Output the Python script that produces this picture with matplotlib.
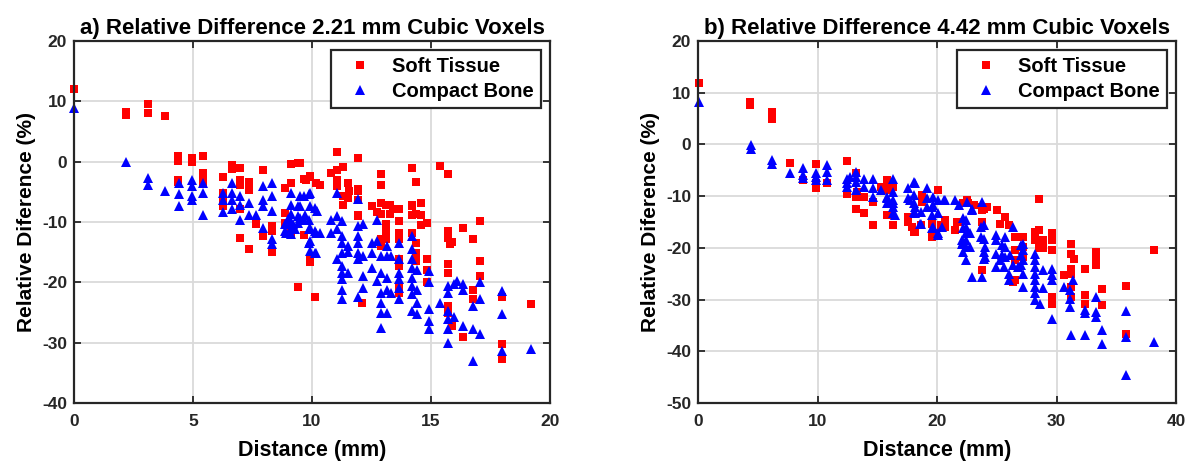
import matplotlib
matplotlib.use("Agg")
import matplotlib.pyplot as plt
import numpy as np

plt.rcParams['font.family'] = ['Liberation Sans', 'DejaVu Sans']
plt.rcParams['axes.unicode_minus'] = False

# ---------------- Panel a data (2.21 mm voxels) ----------------
a_soft = [
    (0, 12.0), (2.17, 8.3), (2.17, 7.8), (3.09, 9.5), (3.09, 8.0), (3.84, 7.6),
    (4.37, 0.9), (4.37, 0.05), (4.37, -3.0), (4.37, -3.3), (4.95, 0.6), (4.95, 0.0),
    (5.41, 0.9), (5.41, -2.0), (5.41, -3.4), (5.41, -1.9),
    (6.24, -2.5), (6.24, -6.3), (6.24, -7.4), (6.27, -5.2), (6.62, -0.5), (6.62, -1.2),
    (6.99, -1.0), (6.99, -3.0), (6.99, -3.8), (6.99, -12.6), (6.99, -7.9),
    (7.37, -3.3), (7.37, -4.7), (7.37, -14.4), (7.66, -10.4), (7.96, -1.3), (7.96, -12.3),
    (8.3, -10.7), (8.3, -11.5), (8.3, -14.9), (8.85, -4.4), (8.85, -8.5), (8.85, -10.1),
    (9.13, -0.4), (9.13, -3.5), (9.13, -11.8), (9.41, -0.2), (9.4, -20.7),
    (9.65, -2.9), (9.65, -12.1), (9.9, -2.5), (9.9, -16.2), (9.9, -16.7), (10.14, -22.4),
    (9.5, -0.3), (9.76, -3.0), (9.93, -2.4), (10.18, -3.5), (10.35, -3.8),
    (10.8, -1.9), (11.05, -1.3), (11.3, -0.9), (11.05, 1.6), (11.94, 0.55),
    (11.05, -3.0), (11.05, -4.1), (11.52, -3.5), (11.52, -6.0), (11.3, -5.7), (11.3, -7.1),
    (11.55, -4.9), (11.94, -4.9), (11.94, -6.3),
    (11.94, -4.6), (11.94, -8.8), (11.94, -9.0), (12.53, -7.4),
    (12.88, -2.1), (12.88, -3.9), (12.88, -8.6), (12.88, -12.9), (12.88, -13.9),
    (12.9, -6.8), (13.1, -7.1), (13.4, -7.9), (12.75, -8.4),
    (13.1, -7.2), (13.27, -7.2), (13.27, -8.7), (13.1, -10.4), (13.1, -11.5), (13.1, -12.9),
    (13.66, -7.9), (13.66, -9.9), (13.66, -11.8), (13.66, -12.9), (13.66, -20.6), (13.66, -21.7),
    (13.66, -16.2), (13.66, -17.3),
    (14.22, -1.0), (14.36, -3.3), (14.22, -7.4), (14.57, -6.9), (14.2, -7.1), (14.6, -6.8),
    (14.22, -8.8), (14.36, -8.7), (14.57, -8.8), (14.85, -10.2), (14.6, -10.5),
    (14.22, -11.8), (14.36, -13.4), (14.36, -15.1), (14.36, -16.5),
    (14.85, -16.2), (14.85, -17.9), (14.85, -20.0), (12.11, -23.4),
    (15.38, -0.7), (15.7, -2.1), (15.7, -11.5), (15.7, -12.6), (15.8, -13.7), (15.9, -13.3),
    (15.7, -17.0), (15.7, -18.4), (15.7, -23.9), (15.7, -25.0), (15.9, -27.2),
    (16.33, -11.0), (16.33, -29.1), (16.78, -12.9), (16.78, -21.2), (16.78, -22.8),
    (17.06, -9.9), (17.06, -16.5), (17.06, -19.0),
    (18.0, -22.5), (18.0, -30.2), (18.0, -32.7), (19.2, -23.6),
]
a_bone = [
    (0, 8.9), (2.19, -0.1), (3.09, -2.7), (3.09, -3.8), (3.84, -4.9),
    (4.40, -3.5), (4.40, -5.3), (4.40, -7.4), (4.95, -3.0), (4.95, -4.1), (4.95, -5.7), (4.95, -6.3),
    (5.41, -3.6), (5.41, -5.2), (5.41, -8.9), (6.24, -5.2), (6.24, -6.3), (6.24, -8.3),
    (6.62, -3.6), (6.62, -5.2), (6.62, -6.3), (6.62, -7.9), (6.99, -5.7), (6.99, -7.1), (6.99, -9.6),
    (7.37, -6.8), (7.37, -8.8), (7.66, -8.8), (7.96, -4.1), (7.96, -6.3), (7.96, -7.4), (7.96, -11.0),
    (8.3, -3.5), (8.3, -5.7), (8.3, -8.2), (8.3, -12.9), (8.3, -13.6), (8.85, -10.4), (8.85, -11.5),
    (9.13, -5.2), (9.13, -7.1), (9.13, -8.6), (9.13, -10.0), (9.13, -11.0),
    (9.41, -7.4), (9.41, -9.0), (9.41, -10.1), (9.65, -5.7), (9.65, -9.6),
    (9.9, -5.2), (9.9, -7.4), (9.9, -11.0), (9.9, -13.2), (9.9, -14.8),
    (10.14, -7.7), (10.14, -11.5), (10.14, -15.1),
    (9.0, -9.5), (9.2, -10.3), (9.3, -11.2), (8.9, -11.8), (9.1, -12.0),
    (9.5, -5.7), (9.5, -7.4), (9.5, -9.3), (9.88, -5.3), (10.2, -8.1), (9.71, -8.9),
    (9.88, -9.6), (9.88, -11.2), (10.18, -11.8), (10.35, -11.8), (9.88, -13.4), (10.18, -15.1),
    (11.05, -5.2), (10.8, -9.6), (11.05, -9.0), (11.27, -9.9), (11.05, -11.2), (10.8, -11.8), (11.27, -12.3),
    (11.27, -13.4), (11.27, -15.1), (11.05, -16.2), (11.27, -17.3), (11.27, -18.4), (11.27, -19.5),
    (11.27, -21.2), (11.27, -22.8), (11.5, -14.0), (11.5, -14.9), (11.5, -18.4),
    (11.94, -6.2), (11.94, -10.7), (11.94, -12.3), (11.94, -13.4), (11.94, -15.1), (11.94, -16.2), (11.94, -22.5),
    (12.15, -10.4), (12.15, -15.6), (12.15, -19.0), (12.15, -20.9),
    (12.53, -13.4), (12.53, -15.1), (12.53, -17.6), (12.74, -9.6), (12.74, -13.2), (12.74, -19.8),
    (12.88, -15.6), (12.88, -18.4), (12.88, -21.7), (12.88, -23.4), (12.88, -25.0), (12.88, -27.5),
    (13.15, -14.0), (13.15, -15.6), (13.15, -19.3), (13.15, -21.2), (13.15, -25.0),
    (13.3, -15.6), (13.3, -21.7),
    (13.66, -13.4), (13.66, -16.2), (13.66, -18.4), (13.66, -19.5), (13.66, -20.9), (13.66, -22.8),
    (14.22, -12.3), (14.22, -14.5), (14.22, -16.2), (14.22, -17.6), (14.22, -19.2), (14.22, -20.6),
    (14.22, -22.0), (14.22, -24.7), (14.4, -17.9), (14.4, -21.2), (14.4, -23.4), (14.4, -25.3),
    (14.9, -18.1), (14.9, -20.0), (14.9, -24.5), (14.9, -26.4), (14.9, -27.8), (15.38, -23.4),
    (15.7, -20.6), (15.7, -21.7), (15.7, -24.7), (15.7, -26.1), (15.7, -27.8), (15.7, -30.0),
    (15.95, -20.3), (15.95, -25.8), (16.1, -19.8), (16.33, -20.3), (16.33, -21.2), (16.33, -27.2),
    (16.77, -23.9), (16.77, -27.8), (16.77, -33.0), (17.06, -20.0), (17.06, -22.8), (17.06, -28.6),
    (18.0, -21.4), (18.0, -25.3), (18.0, -31.4), (19.2, -31.1),
]

# ---------------- Panel b data (4.42 mm voxels) ----------------
b_soft = [
    (0.06, 11.9), (4.39, 8.2), (4.39, 7.6), (6.22, 6.3), (6.22, 5.0), (7.7, -3.5), (8.8, -6.9),
    (9.9, -3.7), (9.9, -8.5), (9.9, -7.5), (10.8, -7.5), (12.45, -3.2), (12.45, -9.5),
    (13.2, -5.6), (13.2, -10.1), (13.2, -12.4), (13.3, -9.2), (13.3, -9.8), (13.9, -10.1), (13.9, -13.2),
    (14.67, -11.1), (14.67, -15.6), (15.3, -8.2), (15.8, -6.9), (15.8, -8.2), (15.8, -13.7),
    (15.8, -7.5), (15.8, -8.8), (16.3, -8.2), (16.3, -15.6),
    (17.6, -14.0), (17.6, -15.0), (18.1, -16.9), (18.7, -15.6), (17.9, -15.9), (18.2, -16.9),
    (18.75, -9.8), (18.75, -11.1), (19.7, -17.2), (19.9, -17.2), (19.6, -17.9), (20.1, -8.8),
    (22.2, -11.4), (22.6, -11.4), (23.1, -11.7), (23.8, -12.1), (24.2, -12.1),
    (22.5, -10.8), (23.9, -12.4), (25.0, -12.7), (25.7, -14.0), (25.3, -15.3), (26.0, -15.6),
    (23.8, -12.7), (23.8, -15.0), (21.8, -15.0), (21.5, -16.6), (20.7, -14.6), (19.6, -15.3),
    (20.3, -15.6), (20.7, -15.9), (21.7, -15.0), (23.8, -24.3),
    (26.5, -17.9), (27.2, -17.9), (26.5, -20.4), (26.5, -22.4), (27.2, -19.8), (27.2, -21.7),
    (26.5, -26.2), (26.4, -26.6), (28.5, -10.6),
    (28.2, -16.9), (28.5, -16.6), (28.2, -18.5), (28.5, -20.1), (28.9, -18.5), (28.9, -20.1),
    (29.6, -17.2), (29.6, -18.5), (29.6, -20.4), (29.6, -29.5), (29.6, -30.8), (30.6, -25.3),
    (31.25, -19.2), (31.25, -21.1), (31.5, -22.1), (31.25, -24.0), (31.25, -25.0),
    (31.25, -27.5), (31.25, -29.5), (32.4, -24.1), (32.4, -29.1), (32.4, -30.8),
    (33.3, -20.8), (33.3, -22.4), (33.3, -23.3), (33.8, -27.9), (33.8, -31.1),
    (35.8, -27.3), (35.8, -36.6), (38.2, -20.4),
]
b_bone = [
    (0.06, 8.2), (4.4, -0.1), (4.4, -0.8), (6.22, -3.0), (6.22, -3.8), (7.7, -5.6),
    (8.8, -4.6), (8.8, -5.9), (8.8, -6.4), (9.9, -5.6), (9.9, -6.3), (9.9, -6.9),
    (10.8, -4.0), (10.8, -5.4), (10.8, -6.9), (12.45, -6.6), (12.45, -7.5), (12.45, -8.2),
    (12.7, -6.3), (13.2, -5.3), (13.2, -6.3), (13.2, -7.2), (13.2, -8.8), (13.9, -6.6), (13.9, -8.2),
    (14.67, -6.6), (14.67, -8.5), (14.67, -10.1), (15.3, -8.8), (15.8, -10.4), (15.8, -11.4),
    (15.8, -10.1), (16.3, -11.4), (16.5, -13.7),
    (16.3, -6.6), (16.3, -9.2), (16.3, -10.8), (16.3, -12.1), (16.3, -13.3),
    (17.6, -8.5), (17.6, -10.4), (17.7, -10.8), (18.1, -7.2), (18.1, -9.8), (18.1, -11.4), (18.1, -13.0),
    (18.2, -12.1), (18.2, -13.3), (18.6, -15.3), (18.2, -7.5),
    (18.7, -13.0), (18.7, -15.3), (19.2, -8.5), (19.2, -10.4), (19.2, -12.1),
    (19.6, -12.1), (19.6, -13.7), (19.7, -15.9), (19.7, -11.7), (19.7, -16.2), (20.1, -13.3), (20.1, -17.5),
    (19.7, -10.1), (20.1, -10.8), (20.7, -10.8), (21.5, -10.8), (21.8, -11.7), (22.5, -11.1),
    (22.9, -12.7), (23.8, -11.1), (22.9, -12.4), (20.6, -10.8),
    (19.6, -16.2), (20.1, -17.2), (20.4, -15.9),
    (22.4, -14.6), (22.4, -15.9), (22.4, -17.2), (22.4, -18.5), (22.4, -19.8), (22.4, -22.4),
    (22.2, -14.3), (22.2, -16.2), (22.2, -18.8), (22.2, -20.8),
    (22.1, -18.5), (22.1, -19.2), (22.8, -17.2), (22.8, -19.8), (22.9, -25.6), (23.8, -25.6),
    (23.9, -15.6), (23.9, -18.2), (23.9, -20.8), (23.9, -22.1),
    (23.7, -15.9), (23.7, -17.9), (24.0, -19.8), (24.0, -21.7),
    (24.9, -18.5), (24.9, -21.1), (25.3, -22.4), (25.6, -23.7), (24.9, -23.7), (24.9, -17.5),
    (25.4, -19.5), (25.4, -21.4), (26.1, -21.4), (26.4, -23.3),
    (26.0, -25.0), (26.0, -26.2), (26.4, -15.9), (25.7, -17.9), (25.7, -19.8), (25.7, -21.7),
    (26.8, -23.7), (27.2, -25.0), (27.2, -27.5), (27.2, -19.2), (27.2, -20.4), (27.2, -22.4),
    (27.0, -19.5), (27.0, -21.4), (27.0, -23.3),
    (28.2, -21.1), (28.2, -22.4), (28.2, -23.7), (28.2, -25.0), (28.2, -26.2), (28.2, -27.5),
    (28.2, -28.8), (28.2, -30.1), (28.6, -30.8), (28.9, -24.3), (28.9, -27.8),
    (29.6, -24.0), (29.6, -25.3), (29.6, -26.2), (29.6, -33.7), (30.6, -27.5),
    (31.1, -28.2), (31.1, -29.8), (31.1, -31.4), (31.4, -26.2), (31.2, -36.9), (32.4, -36.9),
    (32.4, -32.0), (32.4, -32.5), (33.3, -29.5), (33.3, -32.4), (33.3, -33.3),
    (33.8, -35.9), (33.8, -38.6), (35.8, -32.2), (35.8, -37.2), (35.8, -44.5), (38.2, -38.2),
]

titles = ["a) Relative Difference 2.21 mm Cubic Voxels",
          "b) Relative Difference 4.42 mm Cubic Voxels"]
xlabel = "Distance (mm)"
ylabel = "Relative Diference (%)"
series_names = ["Soft Tissue", "Compact Bone"]
xlims = [(0, 20), (0, 40)]
ylims = [(-40, 20), (-50, 20)]
xticks = [np.arange(0, 21, 5), np.arange(0, 41, 10)]
yticks = [np.arange(-40, 21, 10), np.arange(-50, 21, 10)]

fig = plt.figure(figsize=(11.9, 4.65), dpi=100)
ax_a = fig.add_axes([74/1190, 1-403/465, (550-74)/1190, (403-41)/465])
ax_b = fig.add_axes([698/1190, 1-403/465, (1176-698)/1190, (403-41)/465])

panels = [(ax_a, a_soft, a_bone), (ax_b, b_soft, b_bone)]
for i, (ax, soft, bone) in enumerate(panels):
    sx, sy = zip(*soft)
    bx, by = zip(*bone)
    ax.plot(sx, sy, 's', color='#FF0000', markersize=5.2, markeredgewidth=0,
            label=series_names[0], zorder=3, clip_on=False)
    ax.plot(bx, by, '^', color='#0000FF', markersize=7.5, markeredgewidth=0,
            label=series_names[1], zorder=4, clip_on=False)
    ax.set_xlim(*xlims[i])
    ax.set_ylim(*ylims[i])
    ax.set_xticks(xticks[i])
    ax.set_yticks(yticks[i])
    ax.grid(True, color='#dadada', linewidth=1.3)
    ax.set_axisbelow(True)
    for sp in ax.spines.values():
        sp.set_linewidth(1.6)
        sp.set_color('#262626')
        sp.set_zorder(5)
    ax.tick_params(direction='in', top=True, right=True, length=5, width=1.3,
                   color='#262626', labelsize=12.5)
    ax.tick_params(axis='x', pad=8)
    ax.tick_params(axis='y', pad=5)
    for lab in ax.get_xticklabels() + ax.get_yticklabels():
        lab.set_fontweight('bold')
        lab.set_color('#262626')
    ax.set_title(titles[i], fontsize=16, fontweight='bold', pad=5)
    ax.set_xlabel(xlabel, fontsize=15.5, fontweight='bold', labelpad=8)
    ax.set_ylabel(ylabel, fontsize=15, fontweight='bold', labelpad=4)
    leg = ax.legend(loc='upper right', fancybox=False, framealpha=1,
                    edgecolor='#262626', borderaxespad=0.45, handletextpad=0.5,
                    handlelength=2.2,
                    prop={'weight': 'bold', 'size': 14.5}, borderpad=0.35,
                    labelspacing=0.3)
    leg.get_frame().set_linewidth(1.6)
    leg.set_zorder(6)

fig.savefig("out.png", dpi=100)
